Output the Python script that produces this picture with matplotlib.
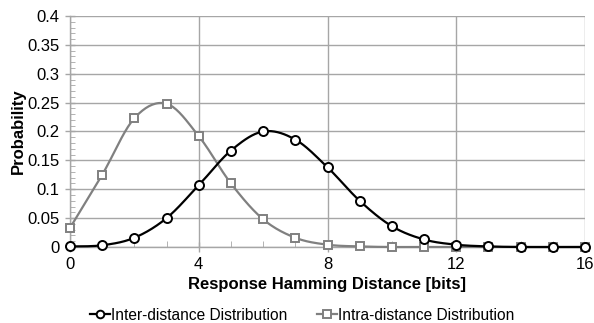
import numpy as np
import matplotlib
matplotlib.use("Agg")
import matplotlib.pyplot as plt
from matplotlib.ticker import MultipleLocator, FixedLocator
from matplotlib.lines import Line2D

plt.rcParams['font.family'] = ['Liberation Sans', 'DejaVu Sans']

distance = list(range(17))
inter = [0.001, 0.003, 0.016, 0.050, 0.107, 0.167, 0.200, 0.186, 0.138, 0.080,
         0.036, 0.013, 0.004, 0.001, 0.0, 0.0, 0.0]
intra = [0.033, 0.125, 0.223, 0.248, 0.192, 0.110, 0.048, 0.016, 0.004, 0.001,
         0.0, 0.0, 0.0, 0.0, 0.0, 0.0, 0.0]
x_ticks = [0, 4, 8, 12, 16]
y_ticks = [0, 0.05, 0.1, 0.15, 0.2, 0.25, 0.3, 0.35, 0.4]
y_ticklabels = ['0', '0.05', '0.1', '0.15', '0.2', '0.25', '0.3', '0.35', '0.4']


def smooth(xs, ys, n=20):
    xs = np.asarray(xs, float)
    ys = np.asarray(ys, float)
    P = np.column_stack([xs, ys])
    out = []
    for i in range(len(P) - 1):
        p0 = P[i - 1] if i > 0 else P[i]
        p1 = P[i]
        p2 = P[i + 1]
        p3 = P[i + 2] if i + 2 < len(P) else P[i + 1]
        c1 = p1 + (p2 - p0) / 6.0
        c2 = p2 - (p3 - p1) / 6.0
        t = np.linspace(0, 1, n, endpoint=(i == len(P) - 2))[:, None]
        seg = ((1 - t) ** 3) * p1 + 3 * ((1 - t) ** 2) * t * c1 + 3 * (1 - t) * t ** 2 * c2 + t ** 3 * p2
        out.append(seg)
    out = np.vstack(out)
    return out[:, 0], out[:, 1]


fig = plt.figure(figsize=(5.94, 3.23), dpi=100)
ax = fig.add_axes([70 / 594, 1 - 247 / 323, 515 / 594, 231 / 323])

gray = '#808080'
gridc = '#a6a6a6'

sx, sy = smooth(distance, intra)
ax.plot(sx, sy, color=gray, lw=1.6, zorder=3, clip_on=False)
ax.plot(distance, intra, ls='none', marker='s', ms=6.3, mfc='white', mec=gray, mew=1.4, zorder=4, clip_on=False)

sx, sy = smooth(distance, inter)
ax.plot(sx, sy, color='black', lw=1.6, zorder=5, clip_on=False)
ax.plot(distance, inter, ls='none', marker='o', ms=6.5, mfc='white', mec='black', mew=1.4, zorder=6, clip_on=False)

ax.set_xlim(0, 16)
ax.set_ylim(0, 0.4)
ax.xaxis.set_major_locator(FixedLocator(x_ticks))
ax.yaxis.set_major_locator(FixedLocator(y_ticks))
ax.set_yticklabels(y_ticklabels)
ax.xaxis.set_minor_locator(MultipleLocator(1))
ax.yaxis.set_minor_locator(MultipleLocator(0.01))
ax.grid(True, which='major', color=gridc, lw=1.0)
ax.set_axisbelow(True)

for s in ['top', 'right']:
    ax.spines[s].set_visible(False)
for s in ['left', 'bottom']:
    ax.spines[s].set_color(gridc)
    ax.spines[s].set_linewidth(1.0)

ax.tick_params(axis='both', which='major', direction='inout', length=7, width=1.0,
               color=gridc, labelsize=12, labelcolor='black')
ax.tick_params(axis='y', which='major', pad=4)
ax.tick_params(axis='x', which='major', pad=4)
ax.tick_params(axis='x', which='minor', direction='in', length=4, color=gridc)
ax.tick_params(axis='y', which='minor', direction='in', length=3.5, color=gridc)

ax.set_xlabel('Response Hamming Distance [bits]', fontsize=12, fontweight='bold', labelpad=3)
ax.set_ylabel('Probability', fontsize=12, fontweight='bold', labelpad=1)

handles = [
    Line2D([], [], color='black', lw=1.6, marker='o', ms=5.5, mfc='white', mec='black', mew=1.4),
    Line2D([], [], color=gray, lw=1.6, marker='s', ms=5.5, mfc='white', mec=gray, mew=1.4),
]
fig.legend(handles, ['Inter-distance Distribution', 'Intra-distance Distribution'],
           loc='center', bbox_to_anchor=(302 / 594, 1 - 315 / 323), ncol=2, frameon=False,
           fontsize=11.2, handlelength=1.3, handletextpad=0.05, columnspacing=1.9)

fig.savefig('out.png', dpi=100)
